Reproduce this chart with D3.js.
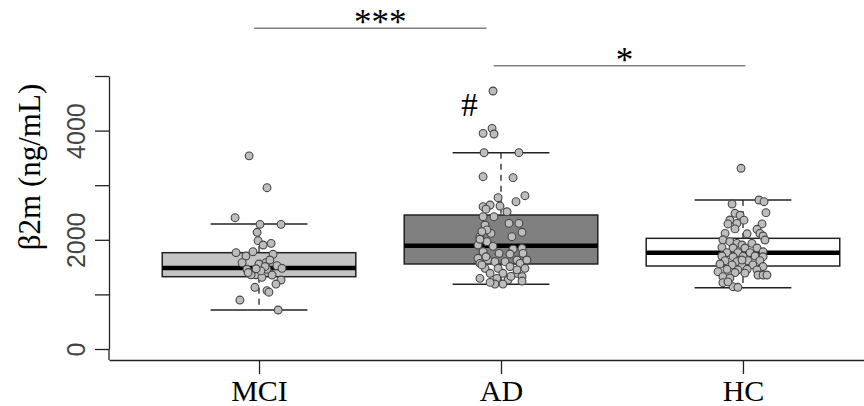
<!DOCTYPE html>
<html>
<head>
<meta charset="utf-8">
<script src="https://cdn.jsdelivr.net/npm/d3@7"></script>
<style>
  body { margin: 0; background: #fff; }
  .serif { font-family: "Liberation Serif", "Times New Roman", serif; }
</style>
</head>
<body>
<div id="chart-area"></div>
<script>
// groups and box statistics (ng/mL)
var groups = ["MCI", "AD", "HC"];
var lowerWhisker = [714, 1185, 1123];
var q1 = [1324, 1557, 1520];
var median = [1484, 1892, 1764];
var q3 = [1764, 2454, 2027];
var upperWhisker = [2289, 3595, 2729];

// individual points, jitter in category units
var mciValues = [3538, 2954, 2405, 2283, 2283, 2137, 1984, 1905, 1935, 1782, 1764, 1703, 1734, 1581, 1557, 1581, 1630, 1526, 1478, 1460, 1386, 1360, 1313, 1460, 1355, 1264, 1190, 1130, 1068, 1040, 897, 714, 1360, 1510, 1430, 1470, 1400];
var mciJitter = [-0.041, 0.033, -0.099, 0.004, 0.091, -0.008, -0.004, 0.017, 0.050, -0.025, -0.095, -0.054, 0.058, -0.070, 0, 0.029, 0.045, 0.074, 0.095, -0.050, -0.029, -0.012, 0.012, 0.033, 0.054, 0.091, 0.070, -0.017, 0.033, 0.041, -0.079, 0.079, -0.033, 0.025, 0.008, -0.012, -0.045];

var adValues = [4725, 3950, 4041, 3938, 3595, 3595, 3156, 3138, 2808, 2698, 2771, 2606, 2637, 2618, 2514, 2423, 2301, 2301, 2271, 2137, 2118, 2057, 2057, 1965, 1905, 1880, 1844, 1782, 1752, 1661, 1630, 1630, 1569, 1569, 1600, 1600, 1478, 1478, 1510, 1478, 1386, 1386, 1386, 1324, 1294, 1294, 1264, 1190, 1190, 1245, 1450, 1752, 2180, 1630, 2423, 2150, 1690, 1830, 1740, 2560, 2010, 1540, 1330, 1220];
var adJitter = [-0.033, -0.074, -0.037, -0.029, -0.070, 0.074, -0.074, 0.050, 0.099, 0.062, -0.012, -0.074, -0.045, -0.004, 0.025, -0.029, 0.033, 0.074, -0.066, 0.087, -0.041, 0.045, -0.087, -0.058, -0.095, -0.033, 0.087, -0.074, 0.091, -0.095, -0.054, 0.066, 0.079, -0.087, -0.025, 0.017, 0.099, -0.066, 0.037, -0.012, -0.045, 0.008, 0.066, 0.087, -0.087, -0.017, 0.029, -0.025, 0.008, 0.087, 0.066, -0.008, -0.058, 0.107, -0.074, -0.079, -0.062, 0.050, 0.037, -0.062, -0.087, -0.079, 0.041, -0.045];

var hcValues = [3310, 2656, 2729, 2698, 2497, 2485, 2450, 2363, 2360, 2301, 2290, 2290, 2192, 2118, 2118, 2110, 2070, 1996, 2000, 1965, 1935, 1905, 1935, 1862, 1850, 1850, 1850, 1764, 1764, 1764, 1780, 1703, 1690, 1695, 1703, 1690, 1618, 1600, 1618, 1618, 1557, 1540, 1520, 1540, 1510, 1460, 1450, 1460, 1450, 1416, 1400, 1390, 1355, 1355, 1324, 1300, 1214, 1141, 1130, 1230, 1355, 1630, 2200];
var hcJitter = [-0.008, -0.045, 0.066, 0.087, 0.095, -0.033, -0.012, -0.054, 0.004, -0.025, -0.062, 0.079, 0.058, 0.070, -0.074, 0.017, 0.083, 0.091, -0.083, -0.054, -0.025, -0.004, 0.037, -0.087, -0.041, 0.008, 0.058, -0.066, -0.021, 0.029, 0.083, -0.087, -0.041, 0, 0.050, 0.083, -0.074, -0.025, 0.021, 0.070, -0.095, -0.045, -0.004, 0.041, 0.083, -0.066, -0.021, 0.017, 0.058, -0.103, -0.033, 0.008, 0.062, 0.083, -0.083, -0.054, -0.083, -0.041, -0.021, -0.062, 0.099, -0.004, -0.033];

// y ticks
var yTicks = [0, 1000, 2000, 3000, 4000, 5000];
var yTickLabels = ["0", "", "2000", "", "4000", ""];

// significance brackets
var sigLabels = ["***", "*"];
var sigFrom = [0.98, 1.97];
var sigTo = [1.94, 3.01];
var sigLevel = [5875, 5190];

var boxFills = ["#c4c4c4", "#808080", "#ffffff"];

var width = 864, height = 406;
var margin = { left: 109, bottom: 360 };

var svg = d3.select("#chart-area")
    .append("svg")
    .attr("width", width)
    .attr("height", height);

var x = d3.scaleLinear().domain([0.38, 3.62]).range([margin.left, margin.left + 784]);
var y = d3.scaleLinear().domain([0, 5000]).range([349, 76]);
var unit = x(1) - x(0);
var boxW = 0.8 * unit;
var capW = 0.4 * unit;

// y axis
var yAxis = svg.append("g")
    .attr("transform", "translate(" + margin.left + ",0)")
    .call(d3.axisLeft(y).tickValues(yTicks).tickSize(14).tickSizeOuter(0)
        .tickFormat((d, i) => yTickLabels[i]));
yAxis.selectAll("path, line").attr("stroke", "#222").attr("stroke-width", 1.3);
yAxis.selectAll("text")
    .attr("transform", "rotate(-90)")
    .attr("x", 0).attr("y", -24)
    .attr("dy", 0)
    .attr("text-anchor", "middle")
    .style("font-family", "'Liberation Sans', Arial, sans-serif")
    .style("font-size", "25px")
    .attr("fill", "#444");

// L frame vertical piece below 0
svg.append("line")
    .attr("x1", margin.left).attr("x2", margin.left)
    .attr("y1", y(0)).attr("y2", margin.bottom)
    .attr("stroke", "#222").attr("stroke-width", 1.3);

// x axis
var xAxis = svg.append("g")
    .attr("transform", "translate(0," + margin.bottom + ")")
    .call(d3.axisBottom(x).tickValues([1, 2, 3]).tickSize(14).tickSizeOuter(0)
        .tickFormat((d) => groups[d - 1]));
xAxis.selectAll("path, line").attr("stroke", "#222").attr("stroke-width", 1.3);
xAxis.selectAll("text")
    .attr("y", 0).attr("dy", 0)
    .attr("transform", "translate(0,41)")
    .attr("class", "serif")
    .style("font-size", "30px")
    .attr("fill", "#000");

// y title
svg.append("text")
    .attr("class", "serif")
    .attr("transform", "translate(40,167) rotate(-90)")
    .attr("text-anchor", "middle")
    .style("font-size", "31px")
    .text("\u03b22m (ng/mL)");

// boxes
var boxes = groups.map((g, i) => ({ g: g, i: i + 1, lo: lowerWhisker[i], q1: q1[i], med: median[i], q3: q3[i], hi: upperWhisker[i], fill: boxFills[i] }));

var bg = svg.selectAll(".box").data(boxes).enter().append("g").attr("class", "box");

bg.append("line")
    .attr("x1", d => x(d.i)).attr("x2", d => x(d.i))
    .attr("y1", d => y(d.hi)).attr("y2", d => y(d.q3))
    .attr("stroke", "#222").attr("stroke-width", 1.3).attr("stroke-dasharray", "6,5");
bg.append("line")
    .attr("x1", d => x(d.i)).attr("x2", d => x(d.i))
    .attr("y1", d => y(d.q1)).attr("y2", d => y(d.lo))
    .attr("stroke", "#222").attr("stroke-width", 1.3).attr("stroke-dasharray", "6,5");
bg.append("line")
    .attr("x1", d => x(d.i) - capW / 2).attr("x2", d => x(d.i) + capW / 2)
    .attr("y1", d => y(d.hi)).attr("y2", d => y(d.hi))
    .attr("stroke", "#222").attr("stroke-width", 1.5);
bg.append("line")
    .attr("x1", d => x(d.i) - capW / 2).attr("x2", d => x(d.i) + capW / 2)
    .attr("y1", d => y(d.lo)).attr("y2", d => y(d.lo))
    .attr("stroke", "#222").attr("stroke-width", 1.5);
bg.append("rect")
    .attr("x", d => x(d.i) - boxW / 2)
    .attr("y", d => y(d.q3))
    .attr("width", boxW)
    .attr("height", d => y(d.q1) - y(d.q3))
    .attr("fill", d => d.fill)
    .attr("stroke", "#222").attr("stroke-width", 1.5);
bg.append("line")
    .attr("x1", d => x(d.i) - boxW / 2).attr("x2", d => x(d.i) + boxW / 2)
    .attr("y1", d => y(d.med)).attr("y2", d => y(d.med))
    .attr("stroke", "#000").attr("stroke-width", 4.5);

// jittered points
var pts = [];
[[mciValues, mciJitter], [adValues, adJitter], [hcValues, hcJitter]].forEach((s, gi) => {
    s[0].forEach((v, k) => pts.push({ i: gi + 1, v: v, j: s[1][k] }));
});

svg.selectAll(".pt").data(pts).enter().append("circle")
    .attr("class", "pt")
    .attr("cx", d => x(d.i + d.j))
    .attr("cy", d => y(d.v))
    .attr("r", 3.9)
    .attr("fill", "#bdbdbd")
    .attr("stroke", "#454545")
    .attr("stroke-width", 1.1);

// "#" marker on AD
svg.append("text")
    .attr("class", "serif")
    .attr("x", x(1.87)).attr("y", y(4270))
    .attr("text-anchor", "middle")
    .style("font-size", "33px")
    .text("#");

// significance brackets
sigLabels.forEach((lab, k) => {
    svg.append("line")
        .attr("x1", x(sigFrom[k])).attr("x2", x(sigTo[k]))
        .attr("y1", y(sigLevel[k])).attr("y2", y(sigLevel[k]))
        .attr("stroke", "#808080").attr("stroke-width", 1.5);
    svg.append("text")
        .attr("class", "serif")
        .attr("x", (x(sigFrom[k]) + x(sigTo[k])) / 2 + (k === 0 ? 10 : 5))
        .attr("y", y(sigLevel[k]) + 6)
        .attr("text-anchor", "middle")
        .style("font-size", "35px")
        .text(lab);
});
</script>
</body>
</html>
